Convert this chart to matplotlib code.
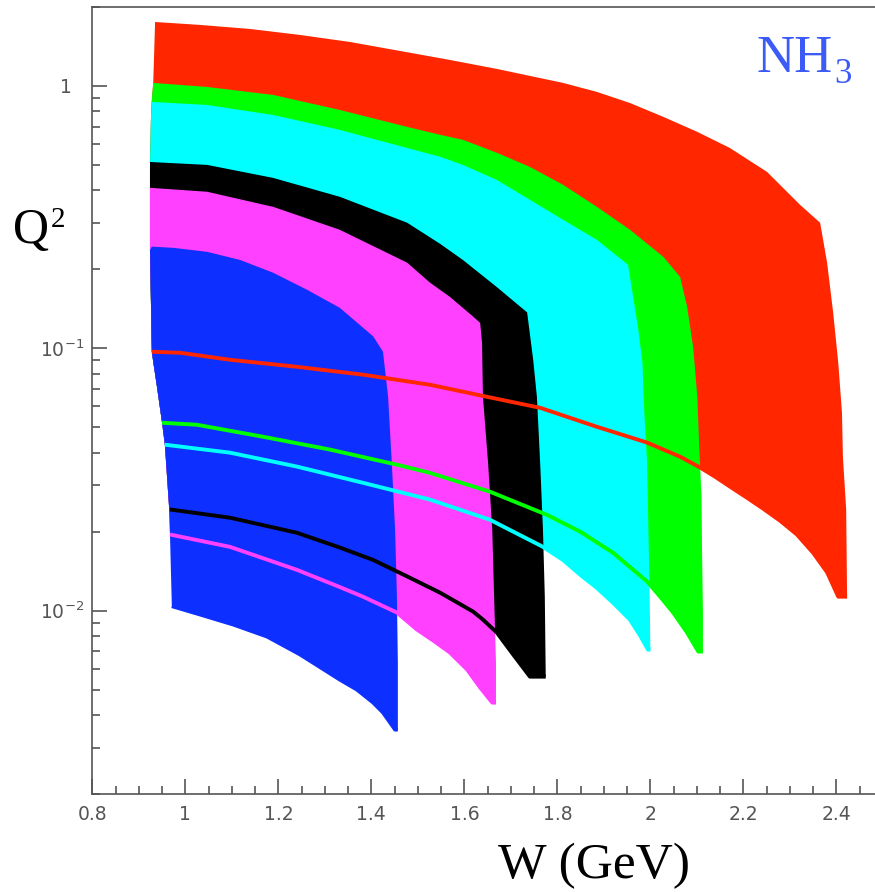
import matplotlib
matplotlib.use("Agg")
import matplotlib.pyplot as plt
import numpy as np
from matplotlib.ticker import FixedLocator, MultipleLocator, NullFormatter

# kinematic coverage, one band per setting (drawn largest first)
band_names = ["red", "green", "cyan", "black", "magenta", "blue"]
band_colors = ["#ff2600", "#00ff00", "#00ffff", "#000000", "#ff40ff", "#0d2fff"]

# shared low-W edge of all bands
edge_W = [0.935, 0.931, 0.928, 0.926, 0.924, 0.924, 0.926, 0.928, 0.931, 0.939,
          0.950, 0.956, 0.965, 0.967, 0.971]
edge_Q2 = [1.753, 1.027, 0.885, 0.742, 0.479, 0.237, 0.153, 0.0970, 0.0888, 0.0714,
           0.0520, 0.0429, 0.0249, 0.0195, 0.0104]

# upper limit (top edge then high-W edge), per band
upper_W = {
    "red": [0.935, 1.032, 1.139, 1.247, 1.354, 1.462, 1.569, 1.670, 1.741, 1.812, 1.885,
            1.956, 2.028, 2.101, 2.171, 2.251, 2.322, 2.365, 2.380, 2.393, 2.404, 2.412,
            2.414, 2.421, 2.423],
    "green": [0.931, 1.047, 1.189, 1.332, 1.477, 1.548, 1.597, 1.670, 1.741, 1.812, 1.885,
              1.956, 2.028, 2.064, 2.079, 2.092, 2.101, 2.105, 2.110, 2.111, 2.113, 2.113],
    "cyan": [0.928, 1.047, 1.189, 1.332, 1.477, 1.548, 1.597, 1.670, 1.741, 1.812, 1.885,
             1.952, 1.963, 1.974, 1.983, 1.987, 1.993, 1.995, 1.998, 2.000],
    "black": [0.924, 1.047, 1.189, 1.332, 1.477, 1.548, 1.597, 1.670, 1.735, 1.748, 1.756,
              1.763, 1.769, 1.773, 1.775],
    "magenta": [0.924, 1.047, 1.189, 1.332, 1.477, 1.526, 1.569, 1.619, 1.634, 1.638, 1.640,
                1.651, 1.660, 1.664, 1.668, 1.668],
    "blue": [0.928, 0.974, 1.047, 1.118, 1.189, 1.262, 1.332, 1.404, 1.425, 1.436, 1.444,
             1.451, 1.455, 1.457, 1.457],
}
upper_Q2 = {
    "red": [1.753, 1.708, 1.649, 1.564, 1.471, 1.359, 1.256, 1.161, 1.092, 1.027, 0.949,
            0.861, 0.762, 0.668, 0.580, 0.470, 0.352, 0.301, 0.212, 0.137, 0.0881, 0.0568,
            0.0386, 0.0243, 0.0113],
    "green": [1.027, 0.991, 0.924, 0.810, 0.698, 0.651, 0.623, 0.556, 0.491, 0.420, 0.346,
              0.283, 0.223, 0.187, 0.144, 0.101, 0.0653, 0.0421, 0.0272, 0.0175, 0.00983, 0.00698],
    "cyan": [0.869, 0.846, 0.775, 0.680, 0.580, 0.537, 0.500, 0.438, 0.368, 0.309, 0.259,
             0.208, 0.157, 0.118, 0.0881, 0.0568, 0.0366, 0.0236, 0.0131, 0.00710],
    "black": [0.513, 0.500, 0.446, 0.378, 0.301, 0.250, 0.217, 0.171, 0.137, 0.0904, 0.0653,
              0.0366, 0.0204, 0.0113, 0.00560],
    "magenta": [0.409, 0.395, 0.346, 0.283, 0.212, 0.178, 0.157, 0.132, 0.125, 0.105, 0.0653,
                0.0366, 0.0204, 0.0113, 0.00634, 0.00446],
    "blue": [0.244, 0.2415, 0.2331, 0.217, 0.194, 0.167, 0.1427, 0.111, 0.0970, 0.0653,
             0.0366, 0.0204, 0.0113, 0.00634, 0.00352],
}

# lower limit, drawn as a line on top
lower_W = {
    "red": [0.928, 0.989, 1.096, 1.240, 1.382, 1.526, 1.649, 1.763, 1.885, 1.993, 2.064,
            2.107, 2.139, 2.171, 2.208, 2.242, 2.279, 2.315, 2.350, 2.380, 2.404, 2.423],
    "green": [0.950, 1.025, 1.167, 1.311, 1.455, 1.526, 1.655, 1.777, 1.849, 1.920, 1.993,
              2.021, 2.049, 2.079, 2.103, 2.113],
    "cyan": [0.956, 1.096, 1.240, 1.382, 1.526, 1.655, 1.769, 1.812, 1.849, 1.885, 1.920,
             1.956, 1.978, 1.995, 2.000],
    "black": [0.967, 1.096, 1.240, 1.332, 1.404, 1.477, 1.548, 1.619, 1.640, 1.670, 1.705,
              1.741, 1.775],
    "magenta": [0.967, 1.096, 1.240, 1.332, 1.382, 1.455, 1.498, 1.533, 1.569, 1.606, 1.634,
                1.660, 1.668],
    "blue": [0.971, 1.032, 1.103, 1.176, 1.247, 1.332, 1.369, 1.404, 1.425, 1.451, 1.457],
}
lower_Q2 = {
    "red": [0.0970, 0.0961, 0.0904, 0.0850, 0.0793, 0.0726, 0.0653, 0.0593, 0.0502, 0.0437,
            0.0386, 0.0351, 0.0324, 0.0297, 0.0269, 0.0245, 0.0220, 0.0195, 0.0166, 0.0140,
            0.0113, 0.0113],
    "green": [0.0520, 0.0511, 0.0460, 0.0411, 0.0360, 0.0335, 0.0284, 0.0232, 0.0200, 0.0166,
              0.0129, 0.0113, 0.00983, 0.00824, 0.00698, 0.00698],
    "cyan": [0.0429, 0.0400, 0.0354, 0.0307, 0.0265, 0.0222, 0.0175, 0.0156, 0.0137, 0.0122,
             0.0107, 0.00924, 0.00803, 0.00710, 0.00710],
    "black": [0.0243, 0.0226, 0.0198, 0.0174, 0.0156, 0.0135, 0.0117, 0.00991, 0.00924,
              0.00824, 0.00680, 0.00560, 0.00560],
    "magenta": [0.0195, 0.0175, 0.0143, 0.0123, 0.0113, 0.00983, 0.00847, 0.00769, 0.00692,
                0.00596, 0.00509, 0.00446, 0.00446],
    "blue": [0.0104, 0.00966, 0.00885, 0.00796, 0.00680, 0.00546, 0.00500, 0.00446, 0.00409,
             0.00352, 0.00352],
}

xticks = [0.8, 1.0, 1.2, 1.4, 1.6, 1.8, 2.0, 2.2, 2.4]
xticklabels = ["0.8", "1", "1.2", "1.4", "1.6", "1.8", "2", "2.2", "2.4"]
yticks = [0.01, 0.1, 1.0]
yticklabels = [r"$10^{-2}$", r"$10^{-1}$", "1  "]

fig = plt.figure(figsize=(8.75, 8.92), dpi=100)
ax = fig.add_axes([0.1055, 0.1099, 0.8945, 0.8823])
ax.set_yscale("log")
ax.set_xlim(0.8, 2.483)
ax.set_ylim(0.002, 2.0)

for name, color in zip(band_names, band_colors):
    uW, uQ = np.array(upper_W[name]), np.array(upper_Q2[name])
    lW, lQ = np.array(lower_W[name]), np.array(lower_Q2[name])
    eW, eQ = np.array(edge_W), np.array(edge_Q2)
    keep = (eQ < uQ[0]) & (eQ > lQ[0])
    px = np.concatenate([uW[::-1], eW[keep], lW])
    py = np.concatenate([uQ[::-1], eQ[keep], lQ])
    ax.fill(px, py, color=color, lw=0, zorder=2)

for name, color in zip(band_names, band_colors):
    ax.plot(lower_W[name], lower_Q2[name], color=color, lw=2.8,
            solid_capstyle="butt", solid_joinstyle="round", zorder=3)

# axis frame and ticks
for side in ["left", "bottom", "top"]:
    ax.spines[side].set_color("#555555")
    ax.spines[side].set_linewidth(1.2)
ax.spines["right"].set_visible(False)

ax.xaxis.set_major_locator(FixedLocator(xticks))
ax.xaxis.set_minor_locator(MultipleLocator(0.05))
ax.set_xticklabels(xticklabels)
ax.yaxis.set_major_locator(FixedLocator(yticks))
ax.yaxis.set_minor_locator(FixedLocator(
    [m * 10.0 ** e for e in (-3, -2, -1, 0) for m in range(2, 10)]))
ax.yaxis.set_minor_formatter(NullFormatter())
ax.set_yticklabels(yticklabels)
ax.tick_params(which="both", direction="in", color="#555555", width=1.2,
               top=False, right=False, labelcolor="#555555", labelsize=13.5)
ax.tick_params(which="major", length=11)
ax.tick_params(which="minor", length=5.5)
ax.tick_params(axis="x", pad=8)
ax.tick_params(axis="y", pad=6)
for lab in ax.get_xticklabels() + ax.get_yticklabels():
    lab.set_family("DejaVu Sans")

serif = "Liberation Serif"
fig.text(594 / 875, 1 - 878 / 892, "W (GeV)", ha="center", va="baseline",
         family=serif, fontsize=37)
fig.text(13 / 875, 1 - 243 / 892, "Q", ha="left", va="baseline",
         family=serif, fontsize=36)
fig.text(51 / 875, 1 - 227 / 892, "2", ha="left", va="baseline",
         family=serif, fontsize=21)
fig.text(757 / 875, 1 - 72 / 892, "NH", ha="left", va="baseline",
         family=serif, fontsize=38, color="#3c5af5")
fig.text(834 / 875, 1 - 83 / 892, "3", ha="left", va="baseline",
         family=serif, fontsize=25, color="#3c5af5")

fig.savefig("out.png", dpi=100)
